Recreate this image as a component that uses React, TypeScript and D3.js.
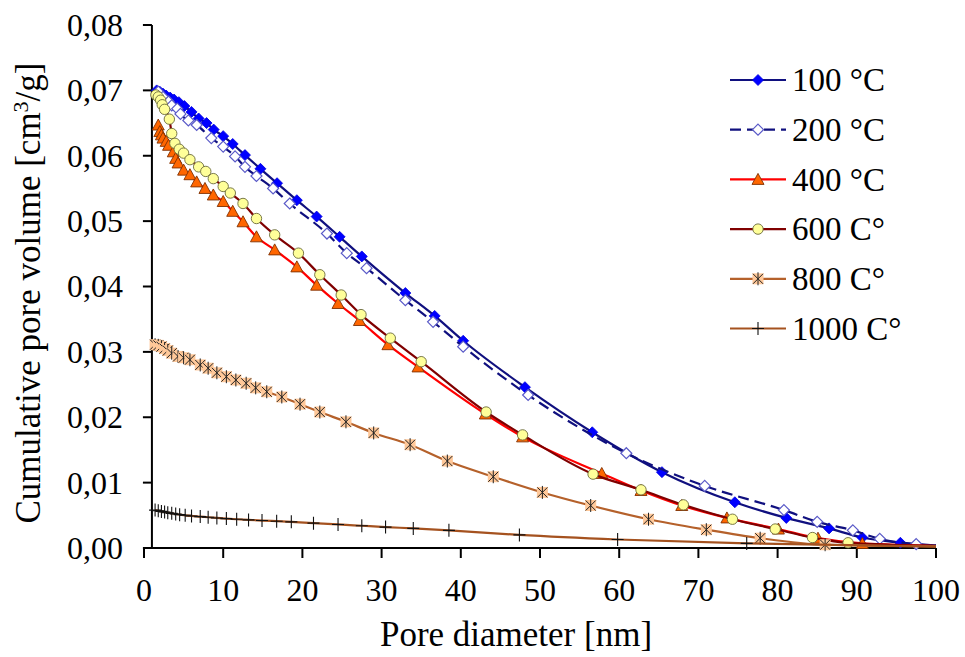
import { useMemo } from 'react'
import * as d3 from 'd3'

// pore diameter [nm] / cumulative volume [cm3/g]
const d100 = [1.6, 2.0, 2.4, 2.8, 3.3, 3.8, 4.4, 5.1, 6.0, 6.9, 7.9, 8.8, 10.0, 11.2, 12.75, 14.7, 16.8, 19.3, 21.8, 24.7, 27.5, 33.0, 36.7, 40.3, 48.1, 56.6, 65.4, 74.6, 81.1, 86.5, 90.7, 95.5, 105]
const v100 = [0.0700, 0.0698, 0.0695, 0.0692, 0.0689, 0.0686, 0.0682, 0.0676, 0.0667, 0.0657, 0.0650, 0.0640, 0.0630, 0.0618, 0.0601, 0.0580, 0.0558, 0.0532, 0.0507, 0.0476, 0.0446, 0.0390, 0.0355, 0.0317, 0.0246, 0.0177, 0.0116, 0.0070, 0.0046, 0.0030, 0.0016, 0.0008, 0.0002]

const d200 = [1.8, 2.4, 3.1, 3.5, 4.2, 4.6, 5.6, 6.65, 8.5, 10.0, 11.5, 12.75, 14.2, 16.3, 18.4, 23.1, 25.6, 28.1, 33.0, 36.5, 40.3, 48.5, 60.9, 70.8, 80.8, 85.0, 89.5, 92.9, 97.5, 105]
const v200 = [0.0698, 0.0690, 0.0683, 0.0677, 0.0672, 0.0664, 0.0654, 0.0647, 0.0627, 0.0614, 0.0599, 0.0583, 0.0569, 0.0550, 0.0527, 0.0481, 0.0451, 0.0428, 0.0379, 0.0346, 0.0308, 0.0234, 0.0145, 0.0095, 0.0058, 0.0040, 0.0027, 0.0014, 0.0006, 0.0002]

const d400 = [1.8, 2.0, 2.2, 2.4, 2.8, 3.1, 3.7, 4.0, 4.3, 5.0, 5.8, 6.65, 7.7, 8.75, 10.0, 11.2, 12.5, 14.2, 16.5, 19.3, 21.8, 24.5, 27.2, 30.8, 34.6, 43.1, 47.8, 57.8, 62.75, 67.9, 73.6, 80.1, 85.1, 90.7, 105]
const v400 = [0.0647, 0.0637, 0.0632, 0.0627, 0.0622, 0.0616, 0.0606, 0.0596, 0.0589, 0.0578, 0.0571, 0.0560, 0.0550, 0.0540, 0.0530, 0.0515, 0.0499, 0.0476, 0.0456, 0.0430, 0.0402, 0.0374, 0.0348, 0.0311, 0.0277, 0.0205, 0.0170, 0.0114, 0.0088, 0.0065, 0.0046, 0.0029, 0.0015, 0.0007, 0.0002]

const d600 = [1.5, 1.8, 2.1, 2.3, 2.6, 3.2, 3.5, 3.9, 4.45, 5.0, 5.8, 6.9, 7.8, 8.75, 10.0, 10.9, 12.5, 14.2, 16.5, 19.5, 22.2, 24.9, 27.4, 31.1, 35.0, 43.2, 47.8, 56.7, 62.75, 68.1, 74.3, 79.7, 84.4, 88.9, 105]
const v600 = [0.0693, 0.0690, 0.0685, 0.0678, 0.0671, 0.0656, 0.0634, 0.0619, 0.0610, 0.0604, 0.0594, 0.0583, 0.0576, 0.0565, 0.0553, 0.0543, 0.0527, 0.0504, 0.0479, 0.0451, 0.0418, 0.0387, 0.0357, 0.0321, 0.0285, 0.0208, 0.0173, 0.0113, 0.0089, 0.0066, 0.0044, 0.0029, 0.0016, 0.0008, 0.0002]

const d800 = [1.4, 1.8, 2.2, 2.6, 3.0, 3.5, 4.3, 5.0, 5.8, 7.1, 8.1, 9.2, 10.4, 11.6, 12.9, 14.1, 15.5, 17.4, 19.7, 22.2, 25.5, 29.0, 33.6, 38.3, 44.1, 50.3, 56.4, 63.7, 71.0, 77.8, 86.0, 105]
const v800 = [0.0311, 0.0310, 0.0308, 0.0305, 0.0302, 0.0298, 0.0293, 0.0291, 0.0288, 0.0280, 0.0275, 0.0268, 0.0262, 0.0257, 0.0252, 0.0245, 0.0239, 0.0231, 0.0220, 0.0208, 0.0193, 0.0176, 0.0158, 0.0133, 0.0109, 0.0085, 0.0065, 0.0044, 0.0028, 0.0015, 0.0005, 0.0002]

const d1000 = [1.4, 1.8, 2.2, 2.6, 3.0, 3.5, 4.0, 4.5, 5.2, 6.0, 7.1, 8.1, 9.2, 10.4, 11.7, 13.2, 14.9, 16.75, 18.6, 21.4, 24.5, 27.5, 30.5, 34.0, 38.5, 47.4, 59.8, 76.1, 105]
const v1000 = [0.0058, 0.0057, 0.0056, 0.0055, 0.0054, 0.0053, 0.0052, 0.0051, 0.0050, 0.0049, 0.0048, 0.0047, 0.0046, 0.0045, 0.0044, 0.0043, 0.0042, 0.0041, 0.0040, 0.0038, 0.0036, 0.0034, 0.0032, 0.0030, 0.0027, 0.0020, 0.0013, 0.0007, 0.0001]

const xTicks = [0, 10, 20, 30, 40, 50, 60, 70, 80, 90, 100]
const yTicks = [0, 0.01, 0.02, 0.03, 0.04, 0.05, 0.06, 0.07, 0.08]

type MarkerKind = 'diamond' | 'hollowDiamond' | 'triangle' | 'circle' | 'star' | 'plus'

const SERIES: { name: string; xs: number[]; ys: number[]; line: string; dash?: string; marker: MarkerKind }[] = [
  { name: '100 °C', xs: d100, ys: v100, line: '#10107f', marker: 'diamond' },
  { name: '200 °C', xs: d200, ys: v200, line: '#10107f', dash: '11,6', marker: 'hollowDiamond' },
  { name: '400 °C', xs: d400, ys: v400, line: '#ff0000', marker: 'triangle' },
  { name: '600 C°', xs: d600, ys: v600, line: '#800000', marker: 'circle' },
  { name: '800 C°', xs: d800, ys: v800, line: '#b5612b', marker: 'star' },
  { name: '1000 C°', xs: d1000, ys: v1000, line: '#a5521f', marker: 'plus' }
]

const FONT = "'Liberation Serif', 'DejaVu Serif', 'Times New Roman', serif"

function Marker({ kind, x, y }: { kind: MarkerKind; x: number; y: number }) {
  const t = `translate(${x},${y})`
  if (kind === 'diamond') {
    return <path transform={t} d="M0,-5.5L5.5,0L0,5.5L-5.5,0Z" fill="#0000ff" stroke="#0000e0" strokeWidth={0.8} />
  }
  if (kind === 'hollowDiamond') {
    return <path transform={t} d="M0,-5.5L5.5,0L0,5.5L-5.5,0Z" fill="#ffffff" stroke="#5a5ac8" strokeWidth={1.2} />
  }
  if (kind === 'triangle') {
    return <path transform={t} d="M0,-6L6,5L-6,5Z" fill="#ff6600" stroke="#803000" strokeWidth={0.9} />
  }
  if (kind === 'circle') {
    return <circle cx={x} cy={y} r={5.2} fill="#ffff99" stroke="#6b6b3a" strokeWidth={0.9} />
  }
  if (kind === 'star') {
    return (
      <g transform={t}>
        <rect x={-5.5} y={-5.5} width={11} height={11} fill="#ffc899" />
        <path d="M-5,-5L5,5M5,-5L-5,5M0,-6.5L0,6.5" stroke="#222" strokeWidth={1} fill="none" />
      </g>
    )
  }
  return <path transform={t} d="M0,-6.5L0,6.5M-6,0L6,0" stroke="#111" strokeWidth={1.1} fill="none" />
}

export default function App() {
  const width = 965
  const height = 657

  const x = d3.scaleLinear().domain([0, 100]).range([144, 936])
  const y = d3.scaleLinear().domain([0, 0.08]).range([548, 25])

  const lineGen = useMemo(
    () =>
      d3
        .line<[number, number]>()
        .x(d => x(d[0]))
        .y(d => y(d[1]))
        .curve(d3.curveMonotoneX),
    []
  )

  const fmt = (v: number) => v.toFixed(2).replace('.', ',')
  const axisX0 = x(1)

  return (
    <svg width={width} height={height} style={{ position: 'absolute', left: 0, top: 0, background: '#fff', fontFamily: FONT }}>
      <defs>
        <clipPath id="plot-clip">
          <rect x={0} y={0} width={x(100)} height={height} />
        </clipPath>
      </defs>

      {/* axes */}
      <line x1={x(0)} x2={x(100)} y1={y(0)} y2={y(0)} stroke="#000" strokeWidth={2} />
      <line x1={axisX0} x2={axisX0} y1={y(0)} y2={y(0.08)} stroke="#000" strokeWidth={2} />
      {xTicks.map(t => (
        <g key={`xt-${t}`}>
          <line x1={x(t)} x2={x(t)} y1={y(0)} y2={y(0) + 10} stroke="#000" strokeWidth={2} />
          <text x={x(t)} y={601} textAnchor="middle" fontSize={32} fill="#000">{t}</text>
        </g>
      ))}
      {yTicks.map(t => (
        <g key={`yt-${t}`}>
          <line x1={axisX0 - 9} x2={axisX0} y1={y(t)} y2={y(t)} stroke="#000" strokeWidth={2} />
          <text x={123} y={y(t)} dy="0.34em" textAnchor="end" fontSize={32} fill="#000">{fmt(t)}</text>
        </g>
      ))}

      {/* axis titles */}
      <text x={516} y={646} textAnchor="middle" fontSize={35} fill="#000">Pore diameter [nm]</text>
      <text transform="translate(40,293) rotate(-90)" textAnchor="middle" fontSize={35} fill="#000">
        Cumulative pore volume [cm<tspan dy={-12} fontSize={22}>3</tspan><tspan dy={12}>/g]</tspan>
      </text>

      {/* series */}
      <g clipPath="url(#plot-clip)">
        {SERIES.map(s => {
          const pts = s.xs.map((d, i) => [d, s.ys[i]] as [number, number])
          return (
            <g key={s.name}>
              <path d={lineGen(pts) || ''} fill="none" stroke={s.line} strokeWidth={2.2} strokeDasharray={s.dash} />
              {pts.map((p, i) => (
                <Marker key={i} kind={s.marker} x={x(p[0])} y={y(p[1])} />
              ))}
            </g>
          )
        })}
      </g>

      {/* legend */}
      {SERIES.map((s, i) => {
        const cy = 80 + i * 49.7
        return (
          <g key={`lg-${s.name}`}>
            <line x1={730} x2={786} y1={cy} y2={cy} stroke={s.line} strokeWidth={2.2} strokeDasharray={s.dash} />
            <Marker kind={s.marker} x={758} y={cy} />
            <text x={792} y={cy} dy="0.34em" fontSize={33} fill="#000">{s.name}</text>
          </g>
        )
      })}
    </svg>
  )
}
